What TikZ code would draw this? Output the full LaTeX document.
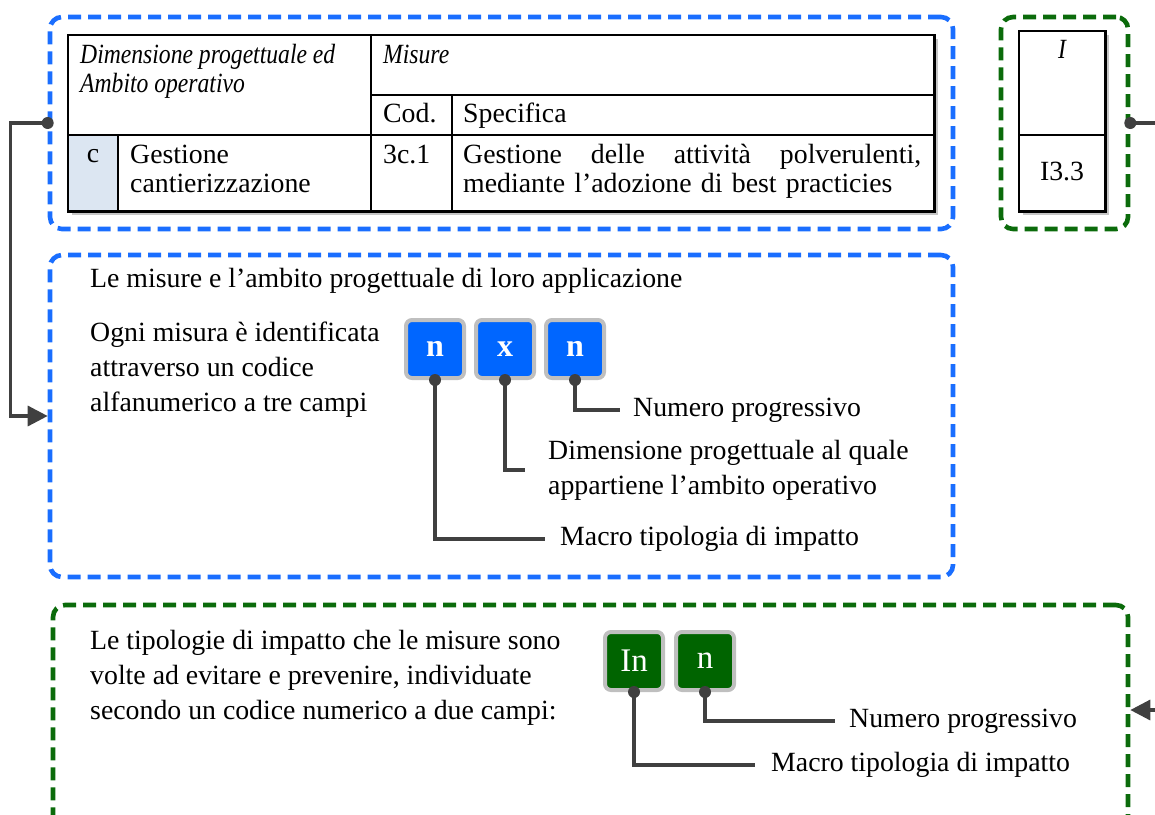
\documentclass[tikz,border=0pt]{standalone}
\usepackage{fontspec}
\setmainfont{Liberation Serif}
\newfontfamily\narrowit{Liberation Serif}[FakeStretch=0.85]
\usetikzlibrary{arrows.meta,shadows}

\definecolor{dashblue}{HTML}{1A6EFF}
\definecolor{codeblue}{HTML}{0066FF}
\definecolor{dashgreen}{HTML}{0B6B0B}
\definecolor{codegreen}{HTML}{006400}
\definecolor{cellblue}{HTML}{DCE6F2}
\definecolor{wirec}{HTML}{404040}
\definecolor{rimgrey}{HTML}{BFBFBF}

\newcommand\bodyfont{\fontsize{27.8}{35}\selectfont}
\newcommand\cellfont{\fontsize{27.8}{29}\selectfont}

\tikzset{
  frame/.style={rectangle, line width=4.6pt, dash pattern=on 13pt off 7pt,
    rounded corners=12pt, inner sep=0pt},
  frameblue/.style={frame, draw=dashblue},
  framegreen/.style={frame, draw=dashgreen},
  tablebg/.style={rectangle, fill=white, inner sep=0pt,
    drop shadow={opacity=0.45, shadow xshift=4pt, shadow yshift=-4pt}},
  rule/.style={draw=black, line width=2.6pt},
  celltext/.style={inner sep=0pt, font=\cellfont, align=left},
  cellital/.style={celltext, font=\cellfont\narrowit\itshape},
  bodytext/.style={inner sep=0pt, font=\bodyfont, align=left},
  lab/.style={bodytext, anchor=west},
  codebox/.style={rectangle, rounded corners=6pt, draw=rimgrey, line width=4pt,
    minimum width=58pt, minimum height=58pt, inner sep=0pt, text=white},
  codeb/.style={codebox, fill=codeblue, font=\fontsize{32}{32}\selectfont\bfseries},
  codeg/.style={codebox, fill=codegreen, font=\fontsize{33}{33}\selectfont},
  wire/.style={draw=wirec, line width=3.4pt},
  wirearrow/.style={wire, -{Triangle[length=20pt,width=20pt]}},
}

\begin{document}
\begin{tikzpicture}[x=1pt,y=-1pt]
\useasboundingbox (0,0) rectangle (1155,814);
\clip (0,0) rectangle (1155,814);

% ---------- dashed group frames ----------
\node[frameblue, minimum width=903pt, minimum height=212pt] (boxA) at (501.5,123) {};
\node[frameblue, minimum width=903pt, minimum height=322pt] (boxB) at (501.5,416) {};
\node[framegreen, minimum width=127pt, minimum height=212pt] (boxG) at (1064.5,123) {};
\node[framegreen, minimum width=1075pt, minimum height=230pt] (boxC) at (590.5,720) {};

% ---------- measures table ----------
\node[tablebg, minimum width=866pt, minimum height=176pt] (tab) at (501,123) {};
\fill[cellblue] (68,135) rectangle (118,211);
\draw[rule] (371,95) -- (934,95);
\draw[rule] (68,135) -- (934,135);
\draw[rule] (118,135) -- (118,211);
\draw[rule] (371,35) -- (371,211);
\draw[rule] (452,95) -- (452,211);
\draw[rule] (tab.north west) rectangle (tab.south east);

\node[cellital, anchor=north west] (hDim) at (80,42.7)
  {\strut Dimensione progettuale ed\\Ambito operativo};
\node[cellital, anchor=base west] (hMis) at (383,63) {Misure};
\node[celltext, anchor=base west] (hCod) at (383,122) {Cod.};
\node[celltext, anchor=base west] (hSpec) at (463,122) {Specifica};
\node[celltext, anchor=base] (vC) at (93,162) {c};
\node[celltext, anchor=north west] (vGest) at (130,142.7)
  {\strut Gestione\\cantierizzazione};
\node[celltext, anchor=base west] (vCod) at (383,163) {3c.1};
\node[celltext, anchor=north west, text width=458pt] (vSpec) at (463,142.7)
  {\strut Gestione\hfill delle\hfill attività\hfill polverulenti,\\mediante l’adozione di best practicies};

% ---------- impact table ----------
\node[tablebg, minimum width=86pt, minimum height=180pt] (tabI) at (1062,121) {};
\draw[rule] (tabI.west |- 0,135) -- (tabI.east |- 0,135);
\draw[rule] (tabI.north west) rectangle (tabI.south east);
\node[cellital, anchor=base] (hI) at (1062,58) {I};
\node[celltext, anchor=base] (vI) at (1062,180) {I3.3};

% ---------- measure code ----------
\node[bodytext, anchor=north west] (titleB) at (90,262.5)
  {\strut Le misure e l’ambito progettuale di loro applicazione};
\node[bodytext, anchor=north west] (introB) at (90,316.5)
  {\strut Ogni misura è identificata\\attraverso un codice\\alfanumerico a tre campi};

\node[codeb] (c1) at (435,349) {n};
\node[codeb] (c2) at (505,349) {x};
\node[codeb] (c3) at (575,349) {n};

\node[lab] (lNum) at (633,410) {Numero progressivo};
\node[lab] (lDim) at (548,470) {Dimensione progettuale al quale\\appartiene l’ambito operativo};
\node[lab] (lMac) at (560,539) {Macro tipologia di impatto};

\draw[wire] (c3.south) |- ([xshift=-13pt]lNum.west);
\draw[wire] (c2.south) |- ([xshift=-23pt]lDim.west);
\draw[wire] (c1.south) |- ([xshift=-15pt]lMac.west);
\foreach \c in {c1,c2,c3} \fill[wirec] (\c.south) circle (6pt);

% ---------- impact code ----------
\node[bodytext, anchor=north west] (introC) at (90,624.5)
  {\strut Le tipologie di impatto che le misure sono\\volte ad evitare e prevenire, individuate\\secondo un codice numerico a due campi:};

\node[codeg] (g1) at (634,661) {In};
\node[codeg] (g2) at (705,661) {n};

\node[lab] (lNum2) at (849,721) {Numero progressivo};
\node[lab] (lMac2) at (771,765) {Macro tipologia di impatto};

\draw[wire] (g2.south) |- ([xshift=-14pt]lNum2.west);
\draw[wire] (g1.south) |- ([xshift=-16pt]lMac2.west);
\foreach \c in {g1,g2} \fill[wirec] (\c.south) circle (6pt);

% ---------- links between groups ----------
\draw[wirearrow] (boxA.west) -- ++(-37,0) |- (boxB.west);
\fill[wirec] (boxA.west) circle (6pt);

\coordinate (outG) at (1160,123);
\draw[wire] (boxG.east) -- (outG);
\fill[wirec] (boxG.east) circle (6pt);

\coordinate (inC) at (1160,710);
\draw[wirearrow] (inC) -- (inC -| boxC.east);
\end{tikzpicture}
\end{document}
